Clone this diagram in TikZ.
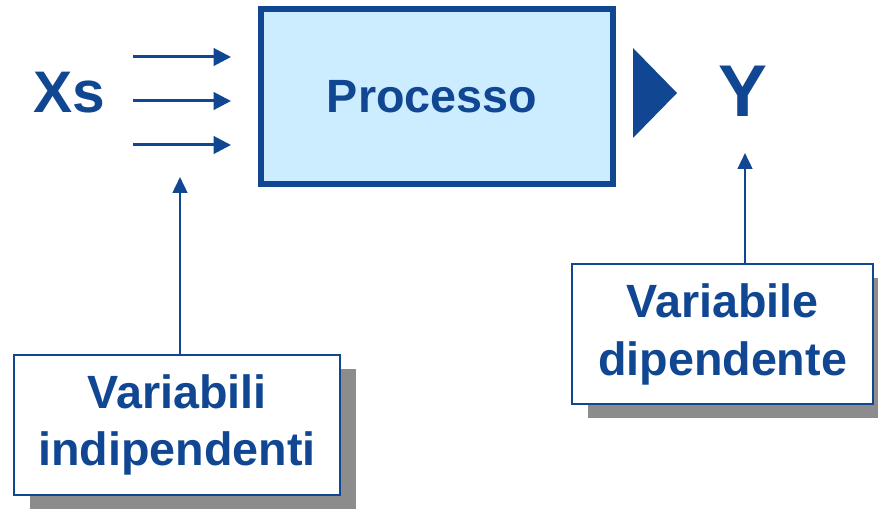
\documentclass[tikz,border=0pt]{standalone}
\usepackage{fontspec}
\setmainfont{Liberation Sans}
\usetikzlibrary{
	arrows.meta,shadows,positioning,calc
}
\definecolor{procblue}{RGB}{16,70,146}
\definecolor{procfill}{RGB}{204,236,255}
\definecolor{shadowgray}{RGB}{140,140,140}
\tikzset{
	process/.style={
		rectangle, inner sep=0pt, minimum width=264pt, minimum height=131.25pt,
		line width=4.5pt, draw=procblue, fill=procfill,
		text=procblue, font=\fontsize{35}{42}\selectfont\bfseries
	},
	%
	varbox/.style={
		rectangle, inner sep=0pt, align=center, minimum height=105pt,
		line width=1.5pt, draw=procblue, fill=white,
		text=procblue, font=\fontsize{35}{43}\selectfont\bfseries,
		drop shadow={shadow xshift=12pt, shadow yshift=-10.5pt, fill=shadowgray, opacity=1}
	},
	%
	bigletter/.style={
		inner sep=0pt, anchor=base, text=procblue
	},
	%
	flow/.style={
		draw=procblue, line width=2.25pt, -{Triangle[length=13pt,width=13pt]}
	},
	%
	pointer/.style={
		draw=procblue, line width=1.9pt, -{Triangle[length=12pt,width=11pt]}
	}
}

\begin{document}
\begin{tikzpicture}[x=0.75pt, y=-0.75pt]
    \useasboundingbox (0,0) rectangle (878,509);
    \node(P)[process] at (436.5,97){};
    \node(Ptext)[text=procblue, font=\fontsize{35}{42}\selectfont\bfseries] at (432,97){Processo};
    \node(X)[bigletter, font=\fontsize{44}{50}\selectfont\bfseries] at (69,113){Xs};
    \node(Y)[bigletter, font=\fontsize{55}{64}\selectfont\bfseries] at (743,117){Y};
    \fill[procblue] (633,48) -- (677,93) -- (633,138) -- cycle;
    \node(Vind)[varbox, minimum width=244.5pt] at (177,425){Variabili\\indipendenti};
    \node(Vdep)[varbox, minimum width=225.75pt] at (722.5,334.5){Variabile\\dipendente};
    % inputs
    \foreach \yy/\nm in {57/a, 101/b, 145/c}{
        \coordinate (\nm s) at (133,\yy);
        \coordinate (\nm e) at (231,\yy);
        \draw[flow] (\nm s) -- (\nm e);
    }
    \coordinate (Xtip) at (180,177);
    \draw[pointer] (Vind.north -| Xtip) -- (Xtip);
    \coordinate (Ytip) at (745,153);
    \draw[pointer] (Vdep.north -| Ytip) -- (Ytip);
\end{tikzpicture}
\end{document}
